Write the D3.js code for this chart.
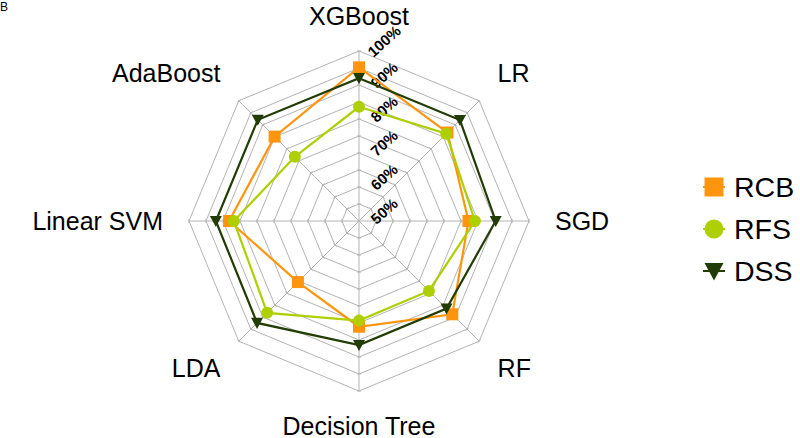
<!DOCTYPE html>
<html>
<head>
<meta charset="utf-8">
<script src="https://cdn.jsdelivr.net/npm/d3@7"></script>
<style>
  html, body { margin: 0; padding: 0; background: #fff; }
  svg { display: block; font-family: "Liberation Sans", Arial, sans-serif; }
</style>
</head>
<body>
<svg id="chart" width="800" height="438"></svg>
<script>
const categories = ["XGBoost", "LR", "SGD", "RF", "Decision Tree", "LDA", "Linear SVM", "AdaBoost"];
const seriesNames = ["RCB", "RFS", "DSS"];
const rcbValues = [0.952, 0.868, 0.822, 0.888, 0.811, 0.754, 0.882, 0.851];
const rfsValues = [0.836, 0.863, 0.841, 0.791, 0.793, 0.882, 0.868, 0.767];
const dssValues = [0.920, 0.920, 0.902, 0.864, 0.865, 0.924, 0.921, 0.921];
const gridValues = [0.55, 0.60, 0.65, 0.70, 0.75, 0.80, 0.85, 0.90, 0.95, 1.00];
const tickLabelValues = [0.5, 0.6, 0.7, 0.8, 0.9, 1.0];
const panelLabel = "B";

const colors = { RCB: "#ff950e", RFS: "#aecf00", DSS: "#213d05" };
const shapes = { RCB: "square", RFS: "circle", DSS: "triangle" };
const series = [
  { name: "RCB", values: rcbValues },
  { name: "RFS", values: rfsValues },
  { name: "DSS", values: dssValues }
];

const svg = d3.select("#chart");
const cx = 359, cy = 221;
const R = 170;

const r = d3.scaleLinear().domain([0.5, 1.0]).range([0, R]);
const angle = d3.scaleLinear().domain([0, categories.length]).range([0, 2 * Math.PI]);
const pt = (i, v) => [cx + r(v) * Math.sin(angle(i)), cy - r(v) * Math.cos(angle(i))];

const g = svg.append("g");

// grid rings (octagons)
const ringLine = d3.lineRadial().angle((d, i) => angle(i)).radius(d => r(d)).curve(d3.curveLinearClosed);
gridValues.forEach(v => {
  g.append("path")
    .attr("transform", `translate(${cx},${cy})`)
    .attr("d", ringLine(categories.map(() => v)))
    .attr("fill", "none")
    .attr("stroke", "#b3b3b3")
    .attr("stroke-width", 1);
});

// spokes
categories.forEach((c, i) => {
  const [x, y] = pt(i, 1.0);
  g.append("line").attr("x1", cx).attr("y1", cy).attr("x2", x).attr("y2", y)
    .attr("stroke", "#b3b3b3").attr("stroke-width", 1);
  gridValues.forEach(v => {
    const [px, py] = pt(i, v);
    const a = angle(i);
    const ux = Math.cos(a) * 2, uy = Math.sin(a) * 2;
    g.append("line").attr("x1", px - ux).attr("y1", py - uy).attr("x2", px + ux).attr("y2", py + uy)
      .attr("stroke", "#b3b3b3").attr("stroke-width", 1);
  });
});

// tick labels
tickLabelValues.forEach(v => {
  const x = cx + 25, y = cy - r(v) - 10;
  g.append("text")
    .attr("x", x).attr("y", y)
    .attr("text-anchor", "middle")
    .attr("dominant-baseline", "central")
    .attr("transform", `rotate(-42,${x},${y})`)
    .attr("font-size", 15)
    .attr("font-weight", "bold")
    .attr("fill", "#000")
    .text(d3.format(".0%")(v));
});

// category labels
const LR_ = 196;
const capH = 17.5;
categories.forEach((c, i) => {
  const a = angle(i);
  const sx = Math.sin(a), sy = -Math.cos(a);
  const x = cx + LR_ * sx, y = cy + LR_ * sy;
  let anchor = "middle";
  if (sx > 0.1) anchor = "start"; else if (sx < -0.1) anchor = "end";
  let baseline;
  if (sy < -0.1) baseline = y;
  else if (sy > 0.1) baseline = y + capH;
  else baseline = y + capH / 2;
  g.append("text")
    .attr("x", x).attr("y", baseline)
    .attr("text-anchor", anchor)
    .attr("font-size", 25)
    .attr("fill", "#000")
    .text(c);
});

function markerPath(shape, s) {
  const p = d3.path();
  const h = s / 2;
  if (shape === "square") {
    p.rect(-h, -h, s, s);
  } else if (shape === "circle") {
    p.moveTo(h, 0); p.arc(0, 0, h, 0, 2 * Math.PI);
  } else {
    p.moveTo(-h, -h * 0.85); p.lineTo(h, -h * 0.85); p.lineTo(0, h); p.closePath();
  }
  return p.toString();
}

// series
const seriesLine = d3.lineRadial().angle((d, i) => angle(i)).radius(d => r(d)).curve(d3.curveLinearClosed);
series.forEach(s => {
  const sg = g.append("g");
  sg.append("path")
    .attr("transform", `translate(${cx},${cy})`)
    .attr("d", seriesLine(s.values))
    .attr("fill", "none")
    .attr("stroke", colors[s.name])
    .attr("stroke-width", 2.2)
    .attr("stroke-linejoin", "miter");
  s.values.forEach((v, i) => {
    const [x, y] = pt(i, v);
    sg.append("path")
      .attr("transform", `translate(${x},${y})`)
      .attr("d", markerPath(shapes[s.name], 12))
      .attr("fill", colors[s.name]);
  });
});

// legend
const legend = svg.append("g");
const legY = d3.scalePoint().domain(seriesNames).range([187, 271]);
seriesNames.forEach(n => {
  const y = legY(n);
  legend.append("line").attr("x1", 703).attr("x2", 725).attr("y1", y).attr("y2", y)
    .attr("stroke", colors[n]).attr("stroke-width", 2);
  legend.append("path")
    .attr("transform", `translate(714,${y})`)
    .attr("d", markerPath(shapes[n], 19))
    .attr("fill", colors[n]);
  legend.append("text")
    .attr("x", 734).attr("y", y + 10)
    .attr("font-size", 28.5)
    .attr("fill", "#000")
    .text(n);
});

// panel label
svg.append("text").attr("x", 0).attr("y", 11).attr("font-size", 12).attr("fill", "#000").text(panelLabel);
</script>
</body>
</html>
